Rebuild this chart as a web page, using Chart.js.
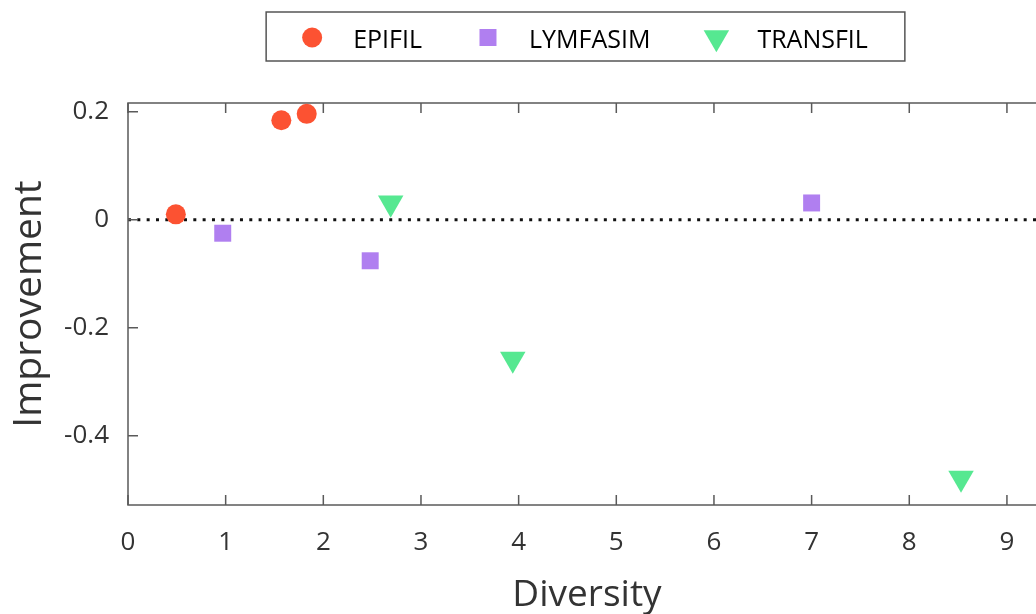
<!DOCTYPE html>
<html>
<head>
<meta charset="utf-8">
<script src="https://cdn.jsdelivr.net/npm/chart.js@4.4.0/dist/chart.umd.min.js"></script>
<style>
  html, body { margin: 0; padding: 0; background: #fff; overflow: hidden; }
  #wrap { width: 1036px; height: 614px; overflow: hidden; position: relative; }
</style>
</head>
<body>
<div id="wrap"><canvas id="diversityChart" width="1050" height="614"></canvas></div>
<script>
// values
const epifilX = [0.49, 1.57, 1.83];
const epifilY = [0.01, 0.184, 0.196];
const lymfasimX = [0.97, 2.48, 7.0];
const lymfasimY = [-0.025, -0.076, 0.031];
const transfilX = [2.69, 3.94, 8.53];
const transfilY = [0.031, -0.258, -0.478];

const xTicks = [0, 1, 2, 3, 4, 5, 6, 7, 8, 9];
const yTicks = [-0.4, -0.2, 0, 0.2];

const toPoints = (xs, ys) => xs.map((x, i) => ({ x: x, y: ys[i] }));

// frame with inward ticks + dotted zero line
const framePlugin = {
  id: 'frame',
  beforeDatasetsDraw(chart) {
    const { ctx, chartArea: a, scales: { x, y } } = chart;
    ctx.save();
    const y0 = y.getPixelForValue(0);
    ctx.strokeStyle = '#111';
    ctx.lineWidth = 3;
    ctx.setLineDash([3, 6.33]);
    ctx.beginPath();
    ctx.moveTo(a.left, y0);
    ctx.lineTo(a.right, y0);
    ctx.stroke();
    ctx.setLineDash([]);

    ctx.strokeStyle = '#5a5a5a';
    ctx.lineWidth = 1.5;
    ctx.strokeRect(a.left, a.top, a.right - a.left, a.bottom - a.top);
    ctx.beginPath();
    x.ticks.forEach(t => {
      const px = x.getPixelForValue(t.value);
      ctx.moveTo(px, a.bottom); ctx.lineTo(px, a.bottom - 10);
      ctx.moveTo(px, a.top); ctx.lineTo(px, a.top + 10);
    });
    y.ticks.forEach(t => {
      const py = y.getPixelForValue(t.value);
      ctx.moveTo(a.left, py); ctx.lineTo(a.left + 10, py);
      ctx.moveTo(a.right, py); ctx.lineTo(a.right - 10, py);
    });
    ctx.stroke();
    ctx.restore();
  }
};

function drawSymbol(ctx, style, cx, cy, color) {
  ctx.fillStyle = color;
  ctx.beginPath();
  if (style === 'circle') {
    ctx.arc(cx, cy, 10, 0, Math.PI * 2);
  } else if (style === 'rect') {
    ctx.rect(cx - 8.5, cy - 8.5, 17, 17);
  } else {
    const r = 14.7;
    ctx.moveTo(cx, cy + r);
    ctx.lineTo(cx - r * Math.sqrt(3) / 2, cy - r / 2);
    ctx.lineTo(cx + r * Math.sqrt(3) / 2, cy - r / 2);
    ctx.closePath();
  }
  ctx.fill();
}

// boxed horizontal legend at the top
const boxLegendPlugin = {
  id: 'boxLegend',
  afterDraw(chart) {
    const ctx = chart.ctx;
    const items = chart.data.datasets.filter(d => d.label);
    ctx.save();
    ctx.font = '25px "Open Sans"';
    const widths = items.map(d => ctx.measureText(d.label).width);
    const padL = 46, padR = 37, symGap = 41, itemGap = 66;
    let total = padL + padR;
    widths.forEach((w, i) => { total += symGap + w + (i < widths.length - 1 ? itemGap : 0); });
    const left = 585.5 - total / 2, top = 12, h = 49;
    ctx.strokeStyle = '#555';
    ctx.lineWidth = 1.5;
    ctx.strokeRect(left, top, total, h);
    let cx = left + padL;
    ctx.textBaseline = 'alphabetic';
    ctx.textAlign = 'left';
    items.forEach((d, i) => {
      drawSymbol(ctx, d.pointStyle, cx, 37.5, d.backgroundColor);
      ctx.fillStyle = '#000';
      ctx.fillText(d.label, cx + symGap, 48);
      cx += symGap + widths[i] + itemGap;
    });
    ctx.restore();
  }
};

new Chart(document.getElementById('diversityChart'), {
  type: 'scatter',
  data: {
    datasets: [
      { label: 'EPIFIL', data: toPoints(epifilX, epifilY), pointStyle: 'circle', pointRadius: 10,
        backgroundColor: '#fc5232', borderColor: '#fc5232', pointBorderWidth: 0 },
      { label: 'LYMFASIM', data: toPoints(lymfasimX, lymfasimY), pointStyle: 'rect', pointRadius: 12,
        backgroundColor: '#b07ff0', borderColor: '#b07ff0', pointBorderWidth: 0 },
      { label: 'TRANSFIL', data: toPoints(transfilX, transfilY), pointStyle: 'triangle', pointRotation: 180, pointRadius: 14.7,
        backgroundColor: '#56e891', borderColor: '#56e891', pointBorderWidth: 0 }
    ]
  },
  options: {
    responsive: false,
    animation: false,
    events: [],
    layout: { autoPadding: false, padding: { top: 103, right: 4, left: 0, bottom: 0 } },
    plugins: { legend: { display: false }, tooltip: { enabled: false } },
    scales: {
      x: {
        type: 'linear', min: 0, max: 9.4,
        afterBuildTicks: s => { s.ticks = xTicks.map(v => ({ value: v })); },
        afterFit: s => { s.height = 109; s.paddingLeft = 0; s.paddingRight = 0; },
        grid: { display: false, drawTicks: false },
        border: { display: false },
        ticks: { padding: 22, color: '#333', font: { family: 'Open Sans', size: 26 }, callback: v => String(v) },
        title: { display: true, text: 'Diversity', color: '#333', font: { family: 'Open Sans', size: 37, lineHeight: 1 }, padding: { bottom: 0, top: 0 } }
      },
      y: {
        type: 'linear', min: -0.528, max: 0.216,
        afterBuildTicks: s => { s.ticks = yTicks.map(v => ({ value: v })); },
        afterFit: s => { s.width = 128; s.paddingTop = 0; s.paddingBottom = 0; },
        grid: { display: false, drawTicks: false },
        border: { display: false },
        ticks: { padding: 19, color: '#333', font: { family: 'Open Sans', size: 26 }, callback: v => String(v) },
        title: { display: true, text: 'Improvement', color: '#333', font: { family: 'Open Sans', size: 39, lineHeight: 1 }, padding: { top: 10, bottom: 0 } }
      }
    }
  },
  plugins: [framePlugin, boxLegendPlugin]
});
</script>
</body>
</html>
